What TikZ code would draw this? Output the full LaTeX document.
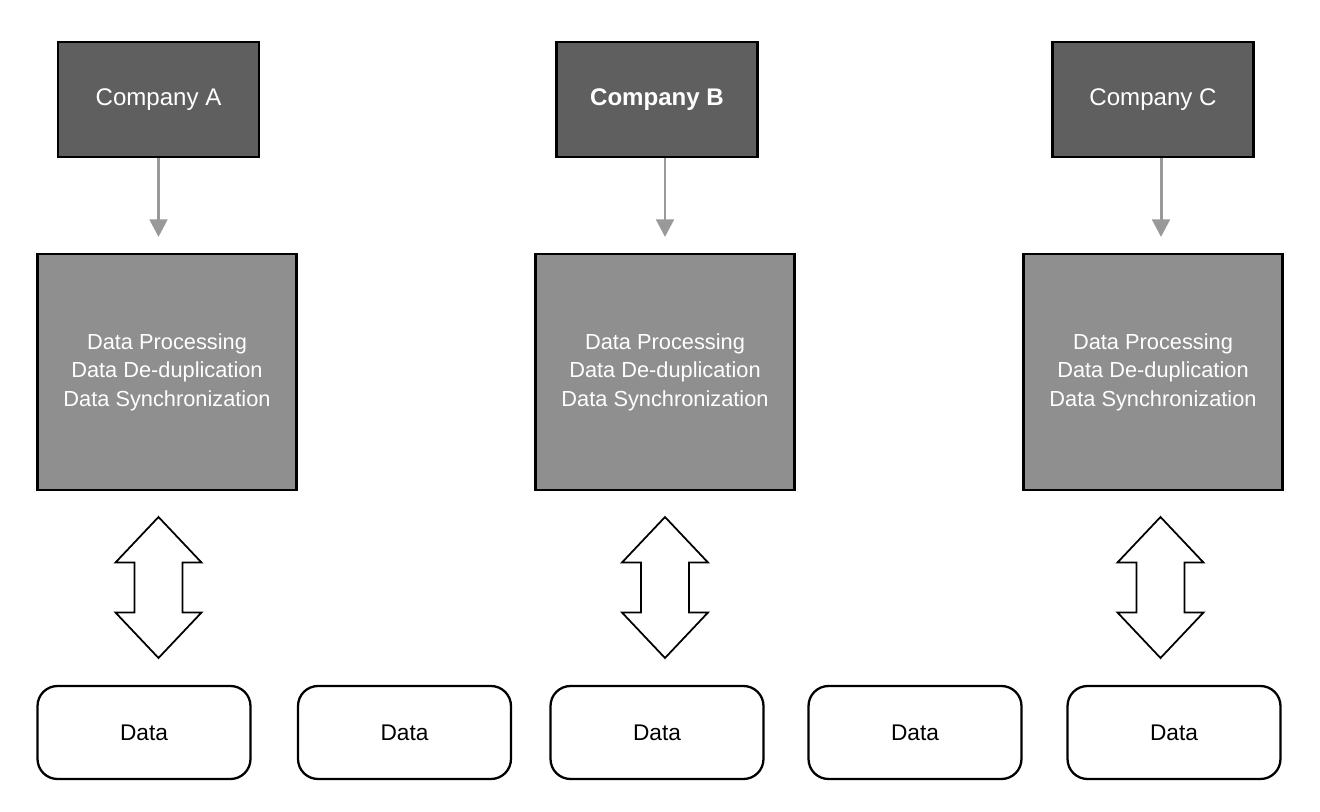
\documentclass[tikz,border=0pt]{standalone}
\usepackage{fontspec}
\setmainfont{Liberation Sans}
\usetikzlibrary{arrows.meta}

\definecolor{darkbox}{HTML}{5F5F5F}
\definecolor{midbox}{HTML}{8F8F8F}
\definecolor{feedgray}{HTML}{999999}

\tikzset{
  company/.style={draw=black, line width=1.3pt, fill=darkbox, text=white, minimum width=4.02cm, minimum height=2.3cm, inner sep=0pt, font=\fontsize{13.7}{16}\selectfont},
  process/.style={draw=black, line width=1.3pt, fill=midbox, text=white, minimum width=5.18cm, minimum height=4.72cm, inner sep=0pt, align=center, font=\fontsize{12.4}{16.2}\selectfont},
  store/.style={draw=black, line width=1.3pt, rounded corners=0.4cm, minimum width=4.26cm, minimum height=1.86cm, inner sep=0pt, font=\fontsize{12.9}{15}\selectfont},
  feed/.style={draw=feedgray, line width=1.7pt, -{Triangle[width=10pt,length=10pt]}},
  sync/.style={draw=black, line width=1pt}
}

\begin{document}
\begin{tikzpicture}[x=0.02cm, y=-0.02cm]
\useasboundingbox (0,0) rectangle (1320,812);

% companies
\node[company] (ca) at (158.5,99.5) {Company A};
\node[company] (cb) at (657,99.5) {\textbf{Company B}};
\node[company] (cc) at (1153,99.5) {Company C};

% processing
\node[process] (pa) at (167,372) {Data Processing\\Data De-duplication\\Data Synchronization};
\node[process] (pb) at (665,372) {Data Processing\\Data De-duplication\\Data Synchronization};
\node[process] (pc) at (1153,372) {Data Processing\\Data De-duplication\\Data Synchronization};

% data stores
\node[store] (da) at (144,732.5) {Data};
\node[store] (db) at (404.5,732.5) {Data};
\node[store] (dc) at (657,732.5) {Data};
\node[store] (dd) at (915,732.5) {Data};
\node[store] (de) at (1174,732.5) {Data};

% feed arrows
\coordinate (ea) at (158.5,237);
\coordinate (eb) at (665,237);
\coordinate (ec) at (1161,237);
\draw[feed] (ca.south -| ea) -- (ea);
\draw[feed] (cb.south -| eb) -- (eb);
\draw[feed] (cc.south -| ec) -- (ec);

% sync arrows
\coordinate (ua) at (158.5,517);
\coordinate (ub) at (665,517);
\coordinate (uc) at (1160.5,517);
\draw[sync] (ua) -- ++(43,45.5) -- ++(-19,0) -- ++(0,50) -- ++(19,0) -- ++(-43,45.5) -- ++(-43,-45.5) -- ++(19,0) -- ++(0,-50) -- ++(-19,0) -- cycle;
\draw[sync] (ub) -- ++(43,45.5) -- ++(-19,0) -- ++(0,50) -- ++(19,0) -- ++(-43,45.5) -- ++(-43,-45.5) -- ++(19,0) -- ++(0,-50) -- ++(-19,0) -- cycle;
\draw[sync] (uc) -- ++(43,45.5) -- ++(-19,0) -- ++(0,50) -- ++(19,0) -- ++(-43,45.5) -- ++(-43,-45.5) -- ++(19,0) -- ++(0,-50) -- ++(-19,0) -- cycle;
\end{tikzpicture}
\end{document}
